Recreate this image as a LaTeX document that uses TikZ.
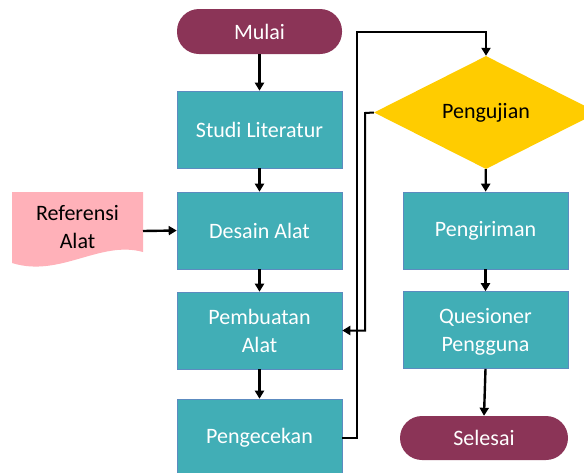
\documentclass[tikz,border=0pt]{standalone}
\usepackage{fontspec}
\setmainfont{Carlito}
\usetikzlibrary{shapes.geometric,arrows.meta}
\definecolor{tosca}{RGB}{65,174,182}
\definecolor{tepi}{RGB}{92,139,192}
\definecolor{marun}{RGB}{139,52,87}
\definecolor{kuning}{RGB}{255,204,0}
\definecolor{merahmuda}{RGB}{255,177,185}
\tikzset{
  proses/.style={rectangle, fill=tosca, draw=tepi, line width=0.6pt, minimum width=165pt, minimum height=77pt, text=white, align=center, font=\fontsize{22}{28}\selectfont},
  terminal/.style={rectangle, rounded corners=22pt, fill=marun, minimum width=165pt, minimum height=45pt, text=white, font=\fontsize{22}{28}\selectfont},
  keputusan/.style={diamond, fill=kuning, minimum width=224pt, minimum height=113pt, inner sep=0pt, font=\fontsize{22}{28}\selectfont},
  panah/.style={-{Triangle[length=8pt,width=9pt]}, line width=2.4pt},
}

\begin{document}
\begin{tikzpicture}[x=1pt,y=-1pt]
		\useasboundingbox (0,0) rectangle (584,472);
		\clip (0,0) rectangle (584,472);
		% kolom kiri
		\node (mulai) [terminal] at (259.5,31.5) {Mulai};
		\node (studi) [proses] at (259.5,129.5) {Studi Literatur};
		\node (desain) [proses] at (259.5,230.5) {Desain Alat};
		\node (buat) [proses] at (259.5,330.5) {Pembuatan\\Alat};
		\node (cek) [proses, minimum height=78pt] at (259.5,438) {Pengecekan};
		
		\fill[merahmuda] (12,192)--(143,192)--(143,252) .. controls (100,240) and (60,278) .. (12,263)--cycle;
		\node (ref) [align=center, font=\fontsize{22}{28}\selectfont, inner sep=0pt] at (77.5,227) {Referensi\\Alat};
		
		% kolom kanan
		\node (uji) [keputusan] at (486,112.5) {Pengujian};
		\node (kirim) [proses] at (485.5,230.5) {Pengiriman};
		\node (kuesioner) [proses, text depth=0pt] at (485.5,330) {Quesioner\\Pengguna};
		\node (selesai) [terminal, minimum width=168pt, minimum height=44pt] at (484,438) {Selesai};
		
		\coordinate (atas) at (357,32);
		\coordinate (balik) at (365,113);
		
		\draw[panah] (mulai)--(studi);
		\draw[panah] (studi)--(desain);
		\draw[panah] (desain)--(buat);
		\draw[panah] (buat)--(cek);
		\draw[panah] (143,231)--(desain.west);
		\draw[panah, line width=2pt] (cek.east) -| (atas) -| (uji.north);
		\draw[panah, line width=2pt] (uji.west)--(balik) |- (buat.east);
		\draw[panah] (uji)--(kirim);
		\draw[panah] (kirim)--(kuesioner);
		\draw[panah] (kuesioner.south)--(selesai.north);
	\end{tikzpicture}
\end{document}
